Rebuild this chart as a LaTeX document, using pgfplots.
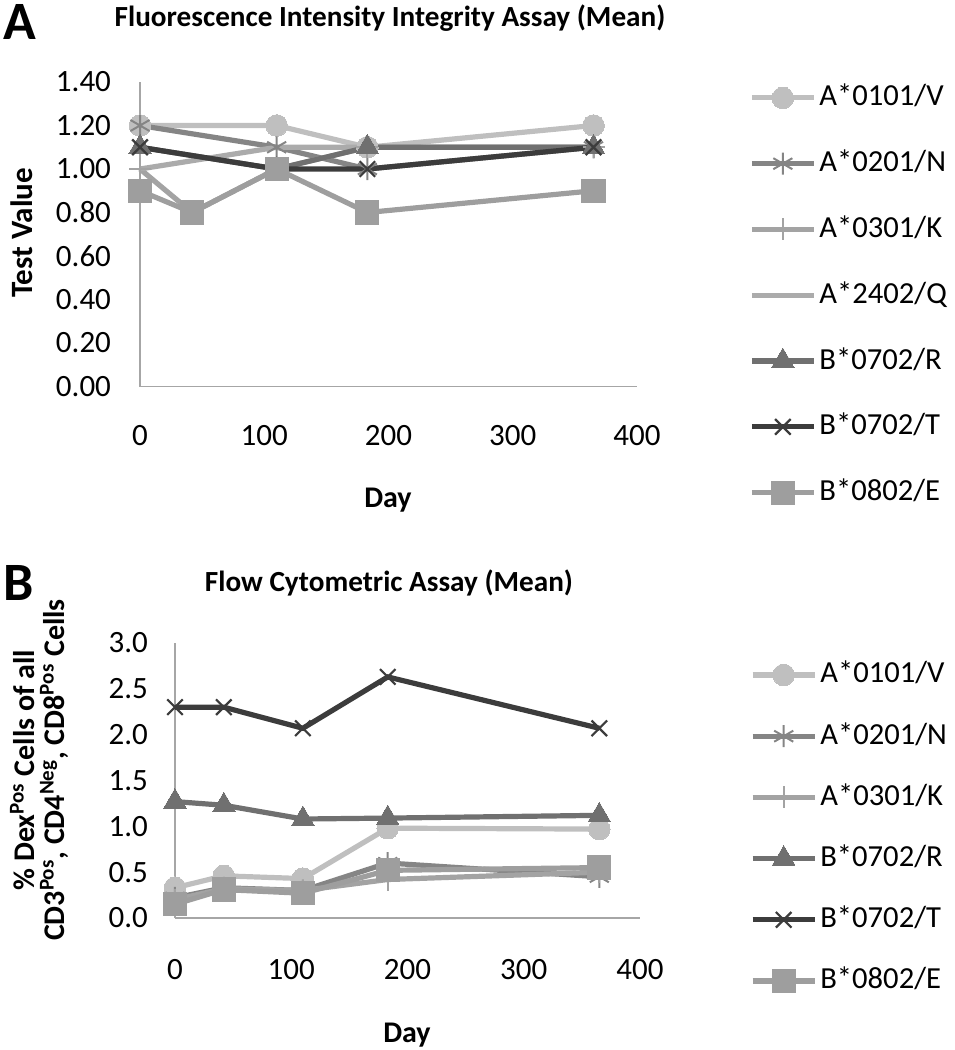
\documentclass[border=0pt]{standalone}
\usepackage{pgfplots}
\pgfplotsset{compat=1.18}
\usepackage{fontspec}
\setmainfont{Carlito}
\definecolor{cV}{HTML}{BFBFBF}
\definecolor{cN}{HTML}{858585}
\definecolor{cK}{HTML}{A3A3A3}
\definecolor{cQ}{HTML}{ABABAB}
\definecolor{cR}{HTML}{707070}
\definecolor{cT}{HTML}{3C3C3C}
\definecolor{cE}{HTML}{9E9E9E}
\definecolor{axgray}{HTML}{A6A6A6}
\pgfplotsset{
  base/.style={
    scale only axis, clip=false,
    axis lines*=left,
    axis line style={draw=axgray, line width=0.9pt},
    major tick length=0pt,
    tick style={draw=none},
    /pgf/number format/assume math mode=true,
    tick label style={font=\fontsize{15.5}{17}\selectfont},
    xmin=0, xmax=400, xtick={0,100,200,300,400},
    legend cell align=left,
    legend image code/.code={\draw[mark repeat=2,mark phase=2,##1] plot coordinates {(0pt,0pt)(15.5pt,0pt)(31pt,0pt)};},
  },
  sV/.style={color=cV, line width=2.6pt, mark=*, mark size=5.4pt, mark options={solid, fill=cV, draw=cV, line width=0pt}},
  sN/.style={color=cN, line width=2.6pt, mark=asterisk, mark size=5.5pt, mark options={solid, draw=cN, line width=1pt}},
  sK/.style={color=cK, line width=2.6pt, mark=+, mark size=5.5pt, mark options={solid, draw=cK, line width=1pt}},
  sQ/.style={color=cQ, line width=2.6pt, mark=none},
  sR/.style={color=cR, line width=2.6pt, mark=triangle*, mark size=6.5pt, mark options={solid, fill=cR, draw=cR, line width=0pt}},
  sT/.style={color=cT, line width=2.6pt, mark=x, mark size=5.5pt, mark options={solid, draw=cT, line width=1.1pt}},
  sE/.style={color=cE, line width=2.6pt, mark=square*, mark size=5.8pt, mark options={solid, fill=cE, draw=cE, line width=0pt}},
}
\begin{document}
\begin{tikzpicture}[x=1pt,y=1pt]
\path[use as bounding box] (0pt,0pt) rectangle (477pt,-525pt);

% ---------- Panel A ----------
\begin{axis}[base,
  at={(70pt,-193.25pt)}, anchor=south west,
  width=248.5pt, height=152.25pt,
  ymin=0, ymax=1.4, ytick={0,0.2,0.4,0.6,0.8,1.0,1.2,1.4},
  yticklabel style={/pgf/number format/fixed, /pgf/number format/fixed zerofill, /pgf/number format/precision=2, xshift=-11pt},
  xticklabel style={yshift=-16pt},
  legend style={draw=none, fill=none, at={(1.225,1.005)}, anchor=north west,
    inner sep=0pt, row sep=15.9pt, font=\fontsize{15.3}{17}\selectfont,
    nodes={inner sep=1.5pt, text height=11pt, text depth=3pt}},
]
\addplot[sV] coordinates {(0,1.2) (110,1.2) (183,1.1) (365,1.2)};
\addlegendentry{A*0101/V}
\addplot[sN] coordinates {(0,1.2) (110,1.1) (183,1.0) (365,1.1)};
\addlegendentry{A*0201/N}
\addplot[sK] coordinates {(0,1.0) (42,0.8) (110,1.0) (183,1.1) (365,1.1)};
\addlegendentry{A*0301/K}
\addplot[sQ] coordinates {(0,1.0) (110,1.1) (183,1.1) (365,1.1)};
\addlegendentry{A*2402/Q}
\addplot[sR] coordinates {(0,1.1) (110,1.0) (183,1.1) (365,1.1)};
\addlegendentry{B*0702/R}
\addplot[sT] coordinates {(0,1.1) (110,1.0) (183,1.0) (365,1.1)};
\addlegendentry{B*0702/T}
\addplot[sE] coordinates {(0,0.9) (42,0.8) (110,1.0) (183,0.8) (365,0.9)};
\addlegendentry{B*0802/E}
\end{axis}

% ---------- Panel B ----------
\begin{axis}[base,
  at={(87.5pt,-459pt)}, anchor=south west,
  width=232.5pt, height=137.5pt,
  ymin=0, ymax=3, ytick={0,0.5,1,1.5,2,2.5,3},
  yticklabel style={/pgf/number format/fixed, /pgf/number format/fixed zerofill, /pgf/number format/precision=1, xshift=-10pt},
  xticklabel style={yshift=-17pt},
  legend style={draw=none, fill=none, at={(1.236,0.947)}, anchor=north west,
    inner sep=0pt, row sep=13.6pt, font=\fontsize{15.3}{17}\selectfont,
    nodes={inner sep=1.5pt, text height=11pt, text depth=3pt}},
]
\addplot[sV] coordinates {(0,0.33) (42,0.46) (110,0.43) (183,0.98) (365,0.97)};
\addlegendentry{A*0101/V}
\addplot[sN] coordinates {(0,0.22) (42,0.33) (110,0.30) (183,0.60) (365,0.45)};
\addlegendentry{A*0201/N}
\addplot[sK] coordinates {(0,0.20) (42,0.32) (110,0.30) (183,0.42) (365,0.50)};
\addlegendentry{A*0301/K}
\addplot[sR] coordinates {(0,1.27) (42,1.23) (110,1.08) (183,1.09) (365,1.12)};
\addlegendentry{B*0702/R}
\addplot[sT] coordinates {(0,2.30) (42,2.30) (110,2.07) (183,2.63) (365,2.07)};
\addlegendentry{B*0702/T}
\addplot[sE] coordinates {(0,0.15) (42,0.31) (110,0.27) (183,0.52) (365,0.55)};
\addlegendentry{B*0802/E}
\end{axis}

% ---------- texts ----------
\node[font=\fontsize{27}{27}\selectfont\bfseries] at (10pt,-11pt) {A};
\node[font=\fontsize{27}{27}\selectfont\bfseries] at (9.5pt,-291.5pt) {B};
\node[font=\fontsize{14.6}{16}\selectfont\bfseries] at (195pt,-9pt) {Fluorescence Intensity Integrity Assay (Mean)};
\node[font=\fontsize{14.6}{16}\selectfont\bfseries] at (194.5pt,-291.5pt) {Flow Cytometric Assay (Mean)};
\node[font=\fontsize{15.5}{17}\selectfont\bfseries, rotate=90] at (11pt,-116.5pt) {Test Value};
\node[font=\fontsize{15}{17}\selectfont\bfseries] at (194pt,-250pt) {Day};
\node[font=\fontsize{15}{17}\selectfont\bfseries] at (203.5pt,-517.5pt) {Day};
\node[font=\fontsize{15}{14}\selectfont\bfseries, rotate=90, align=center] at (19.5pt,-385pt)
  {\% Dex\textsuperscript{Pos} Cells of all\\[1pt]CD3\textsuperscript{Pos}, CD4\textsuperscript{Neg}, CD8\textsuperscript{Pos} Cells};
\end{tikzpicture}
\end{document}
